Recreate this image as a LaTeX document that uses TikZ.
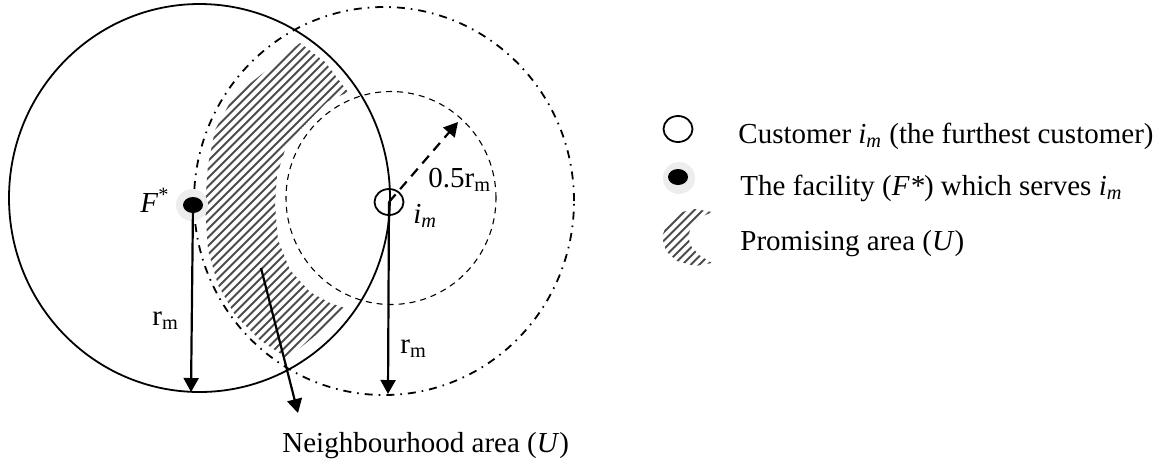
\documentclass[tikz,border=0pt]{standalone}
\usepackage{fontspec}
\setmainfont{Liberation Serif}
\usetikzlibrary{arrows.meta,shapes.geometric}
\begin{document}
\begin{tikzpicture}[x=0.5pt,y=-0.5pt,
  every node/.style={font=\fontsize{14.5}{17}\selectfont, inner sep=0pt},
  arr/.style={line width=1.1pt,-{Triangle[width=7.5pt,length=7pt]}},
  darr/.style={line width=1.1pt,dash pattern=on 5pt off 3.5pt,-{Triangle[width=7.5pt,length=7pt]}},
  solidc/.style={line width=0.9pt},
  dashdotc/.style={line width=0.9pt, dash pattern=on 4pt off 3pt on 0.8pt off 3pt},
  dashc/.style={line width=0.55pt, dash pattern=on 3pt off 2.5pt},
  hatch/.style={draw=black!70, line width=0.95pt},
  halo/.style={fill=black!7},
  fac/.style={ellipse, fill=black, minimum width=10pt, minimum height=8pt},
  cust/.style={ellipse, draw, line width=0.9pt, minimum width=14.5pt, minimum height=13pt},
  lbl/.style={anchor=base west},
]
\useasboundingbox (0,0) rectangle (1165,463);

% circles
\draw[solidc] (199.5,198) ellipse [x radius=95.25pt, y radius=97pt];
\draw[dashdotc] (384,201) ellipse [x radius=95pt, y radius=97pt];
\draw[dashc] (391,198) ellipse [x radius=52.5pt, y radius=53.25pt];

% promising area (hatched)
\begin{scope}
\clip (300,43) -- (325,62) -- (348,92) -- (327,102) -- (300,130) -- (285,150)
  -- (277,175) -- (275,205) -- (278,240) -- (290,270) -- (310,292) -- (330,303)
  -- (345,308) -- (322,330) -- (300,348) -- (287,358) -- (260,340) -- (235,315)
  -- (218,285) -- (208,250) -- (205,205) -- (208,165) -- (215,130) -- (233,97)
  -- (267,70) -- cycle;
\foreach \k in {-25,...,40} \draw[hatch] (\k*8.5,420) -- (\k*8.5+420,0);
\end{scope}

% facility and customer
\fill[halo] (192,205) circle [radius=8pt];
\coordinate (Fend) at (191,392);
\coordinate (Iend) at (388,394);
\coordinate (Hend) at (458,122);
\coordinate (Nstart) at (261,268);
\coordinate (Nend) at (298,413);
\node[cust] (im) at (389,202) {};
\draw[arr] (193,205) -- (Fend);
\node[fac] (F) at (193,205) {};
\draw[arr] (im.center) -- (Iend);
\draw[darr] (im.center) -- (Hend);
\draw[arr] (Nstart) -- (Nend);

% labels
\node[lbl] (Flab) at (140,212) {\textit{F}\textsuperscript{*}};
\node[lbl] (imlab) at (413,223) {\textit{i}\textsubscript{\textit{m}}};
\node[lbl] (half) at (428,187) {0.5r\textsubscript{m}};
\node[lbl] (rl) at (152,325) {r\textsubscript{m}};
\node[lbl] (rr) at (400,353) {r\textsubscript{m}};
\node[lbl] (nb) at (282,452) {Neighbourhood area (\textit{U})};

% legend
\node[cust] (lc) at (678,129) {};
\fill[halo] (679,178) circle [radius=8pt];
\node[fac] (lf) at (678,177) {};
\begin{scope}
\clip (712,212) -- (695,209) -- (678,213) -- (667,223) -- (662,237) -- (666,251)
  -- (677,261) -- (695,266) -- (712,263) -- (699,255) -- (691,246) -- (688,237)
  -- (691,227) -- (699,218) -- cycle;
\foreach \k in {40,...,80} \draw[hatch] (\k*8.5,420) -- (\k*8.5+420,0);
\end{scope}
\node[lbl] (t1) at (738,143) {Customer \textit{i}\textsubscript{\textit{m}} (the furthest customer)};
\node[lbl] (t2) at (740,195) {The facility (\textit{F*}) which serves \textit{i}\textsubscript{\textit{m}}};
\node[lbl] (t3) at (740,250) {Promising area (\textit{U})};
\end{tikzpicture}
\end{document}
